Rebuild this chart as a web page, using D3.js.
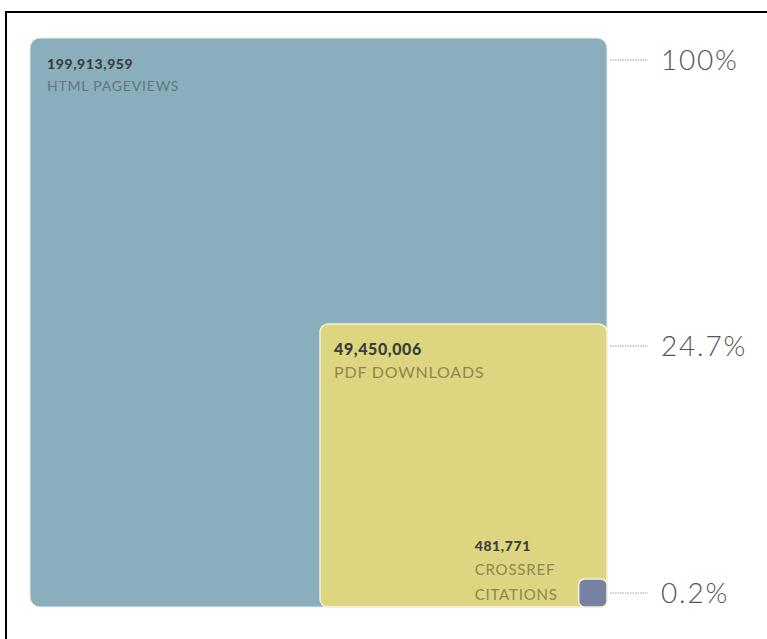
<!DOCTYPE html>
<html>
<head>
<meta charset="utf-8">
<script src="https://cdn.jsdelivr.net/npm/d3@7/dist/d3.min.js"></script>
<style>
  body { margin: 0; background: #fff; }
  svg { display: block; font-family: Lato, "Open Sans", sans-serif; }
</style>
</head>
<body>
<div id="chart"></div>
<script>
// data
const categories = ['HTML PAGEVIEWS', 'PDF DOWNLOADS', 'CROSSREF CITATIONS'];
const counts = [199913959, 49450006, 481771];
const shareLabels = ['100%', '24.7%', '0.2%'];
const fills = ['#8aaebb', '#ddd57f', '#7781a2'];

const width = 767, height = 639;
const anchorX = 607, anchorY = 607; // bottom-right corner shared by all squares

const svg = d3.select('#chart')
    .append('svg')
    .attr('width', width)
    .attr('height', height);

// frame lines (top and left only, the rest is cropped)
svg.append('line')
    .attr('x1', 5).attr('x2', width).attr('y1', 12).attr('y2', 12)
    .attr('stroke', '#000').attr('stroke-width', 2);
svg.append('line')
    .attr('x1', 6).attr('x2', 6).attr('y1', 11).attr('y2', height)
    .attr('stroke', '#000').attr('stroke-width', 2);

// area-proportional boxes (picture is slightly squashed vertically)
const sideX = d3.scaleSqrt()
    .domain([0, d3.max(counts)])
    .range([0, 577]);
const sideY = d3.scaleSqrt()
    .domain([0, d3.max(counts)])
    .range([0, 569]);

const items = categories.map((c, i) => ({
    name: c,
    value: counts[i],
    share: shareLabels[i],
    fill: fills[i],
    w: sideX(counts[i]),
    h: sideY(counts[i])
}));

const radius = [10, 8, 6];

svg.append('g')
    .selectAll('rect')
    .data(items)
    .join('rect')
    .attr('x', d => anchorX - d.w)
    .attr('y', d => anchorY - d.h)
    .attr('width', d => d.w)
    .attr('height', d => d.h)
    .attr('rx', (d, i) => radius[i])
    .attr('fill', d => d.fill)
    .attr('stroke', (d, i) => i === 0 ? '#e3ecef' : '#f4f3dc')
    .attr('stroke-width', (d, i) => i === 0 ? 1 : 1.5);

const fmt = d3.format(',');

// labels inside the two big boxes
const inner = items.slice(0, 2);
const innerStyle = [
    { dx: 17, dy: 31, nSize: 14, lSize: 14, gap: 22, lColor: '#5f7880' },
    { dx: 14, dy: 31, nSize: 16, lSize: 16, gap: 23, lColor: '#8c8850' }
];

inner.forEach((d, i) => {
    const st = innerStyle[i];
    const x0 = anchorX - d.w + st.dx;
    const y0 = anchorY - d.h + st.dy;
    svg.append('text')
        .attr('x', x0).attr('y', y0)
        .attr('font-size', st.nSize)
        .attr('font-weight', 900)
        .attr('letter-spacing', 0.6)
        .attr('fill', '#3a3d3e')
        .text(fmt(d.value));
    svg.append('text')
        .attr('x', x0).attr('y', y0 + st.gap)
        .attr('font-size', st.lSize)
        .attr('letter-spacing', 0.8)
        .attr('fill', st.lColor)
        .text(d.name);
});

// label for the tiny box sits to its left
const tiny = items[2];
const tx = anchorX - tiny.w - 104;
const tb = anchorY - 7;
const tinyLines = ['CROSSREF', 'CITATIONS'];
svg.append('text')
    .attr('x', tx).attr('y', tb - 49)
    .attr('font-size', 14)
    .attr('font-weight', 900)
    .attr('letter-spacing', 0.6)
    .attr('fill', '#3a3d3e')
    .text(fmt(tiny.value));
svg.selectAll('.tiny-label')
    .data(tinyLines)
    .join('text')
    .attr('class', 'tiny-label')
    .attr('x', tx)
    .attr('y', (d, i) => tb - 25 + i * 25)
    .attr('font-size', 15)
    .attr('letter-spacing', 0.8)
    .attr('fill', '#8c8850')
    .text(d => d);

// share markers on the right
const markY = d => anchorY - d.h + Math.min(22, d.h / 2);

svg.append('g')
    .selectAll('line')
    .data(items)
    .join('line')
    .attr('x1', anchorX + 3)
    .attr('x2', 648)
    .attr('y1', markY)
    .attr('y2', markY)
    .attr('stroke', '#9a9a9a')
    .attr('stroke-width', 1)
    .attr('stroke-dasharray', '1.5,1');

svg.append('g')
    .selectAll('text')
    .data(items)
    .join('text')
    .attr('x', 661)
    .attr('y', d => markY(d) + 10)
    .attr('font-size', 28)
    .attr('font-weight', 300)
    .attr('letter-spacing', 1.8)
    .attr('fill', '#555')
    .text(d => d.share);
</script>
</body>
</html>
